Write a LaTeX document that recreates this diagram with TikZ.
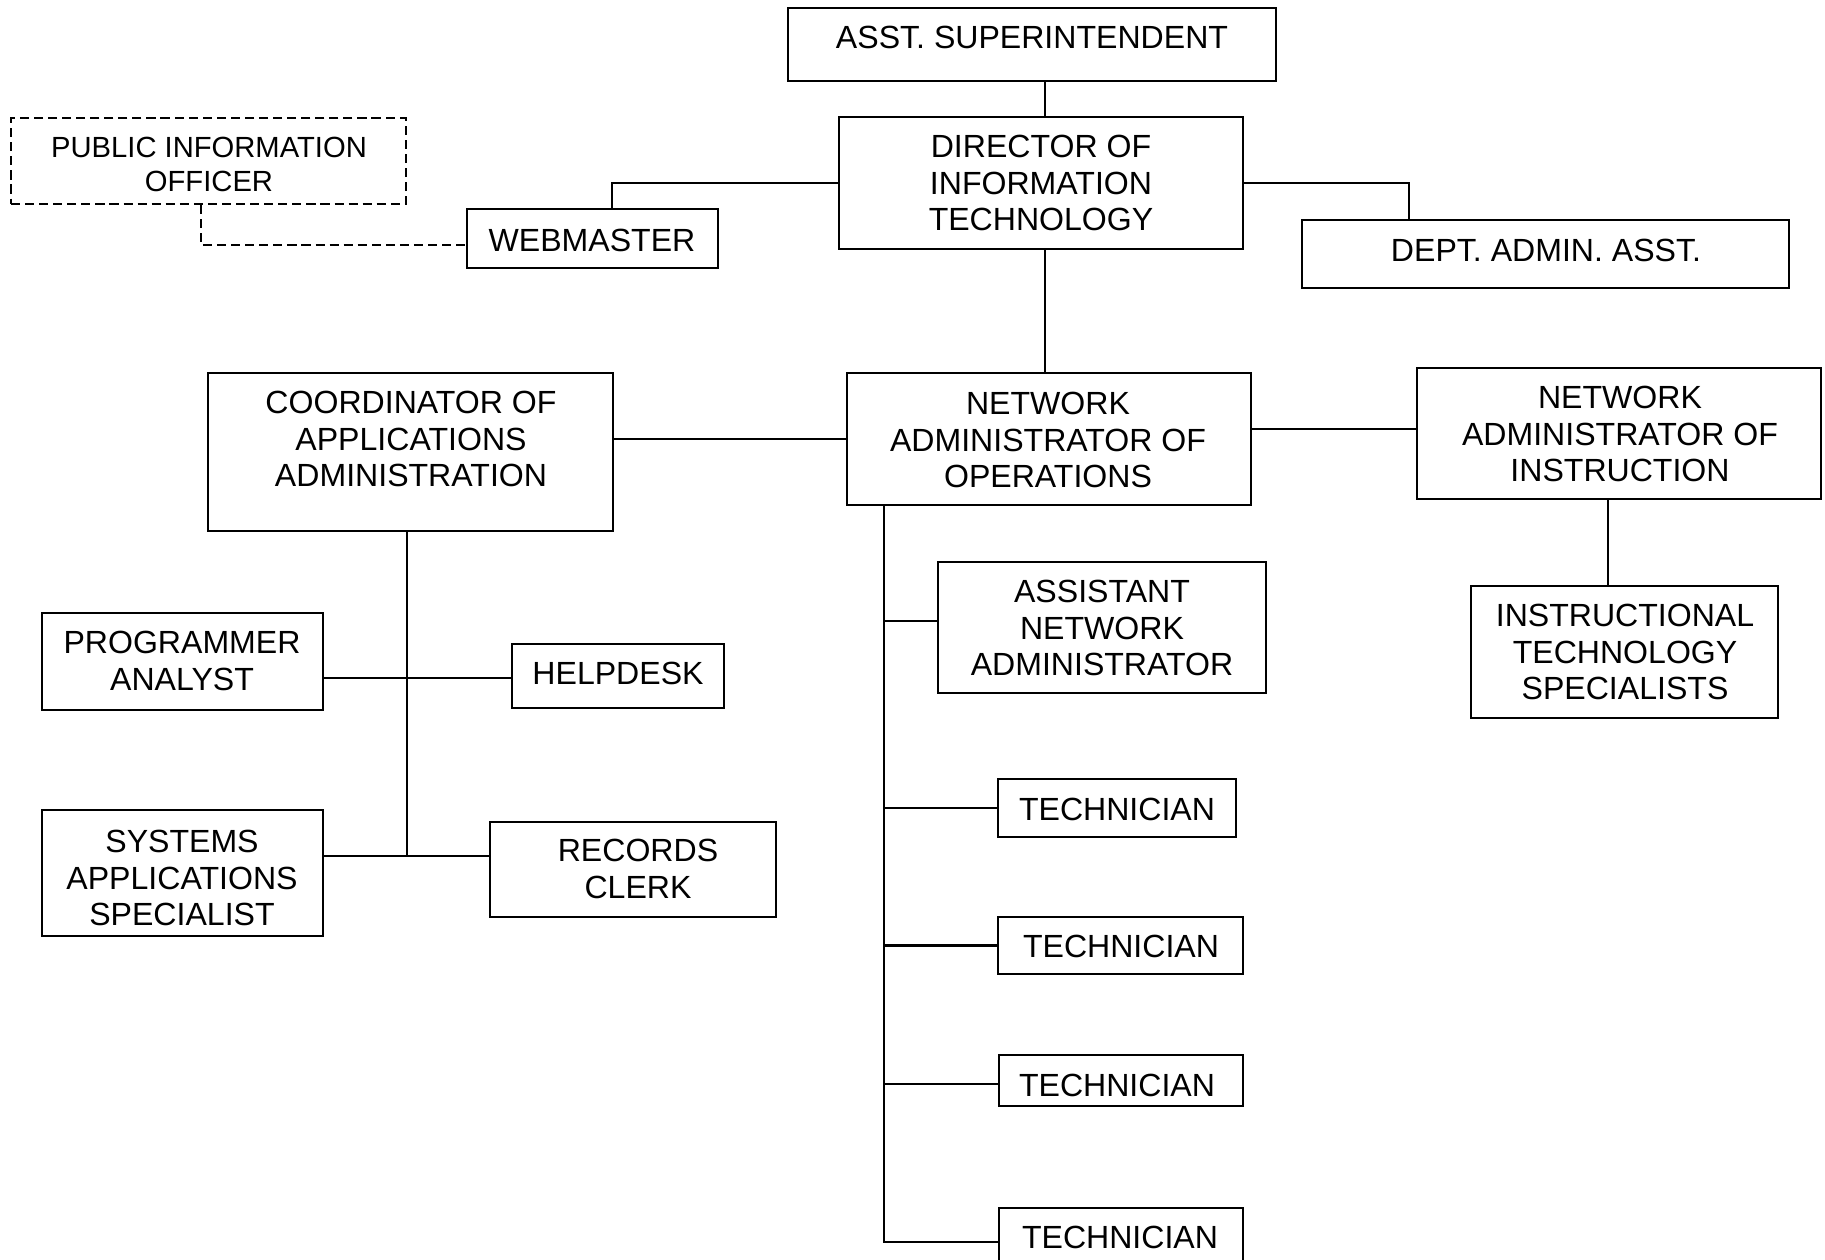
\documentclass[tikz,border=0pt]{standalone}
\usepackage{fontspec}
\setmainfont{Liberation Sans}
\usetikzlibrary{fit,calc}
\begin{document}
\begin{tikzpicture}[x=0.01cm,y=-0.01cm,
  box/.style={draw, line width=0.6pt, inner sep=0pt},
  dbox/.style={box, dash pattern=on 2.6pt off 1.4pt},
  txt/.style={inner sep=0pt, align=center, font=\fontsize{9.12}{10.45}\selectfont},
  stxt/.style={txt, font=\fontsize{8.3}{9.7}\selectfont},
  link/.style={line width=0.6pt},
  dlink/.style={link, dash pattern=on 2.6pt off 1.4pt}]
\clip (0,0) rectangle (1825,1259);
\fill[white] (0,0) rectangle (1825,1259);

% boxes
\node[box, fit={(788,8) (1276,81)}] (ast) {};
\node[box, fit={(839,117) (1243,249)}] (dir) {};
\node[box, fit={(467,209) (718,268)}] (web) {};
\node[box, fit={(1302,220) (1789,288)}] (dept) {};
\node[dbox, fit={(11,118) (406,204)}] (pub) {};
\node[box, fit={(208,373) (613,531)}] (coord) {};
\node[box, fit={(847,373) (1251,505)}] (ops) {};
\node[box, fit={(1417,368) (1821,499)}] (inst) {};
\node[box, fit={(1471,586) (1778,718)}] (its) {};
\node[box, fit={(42,613) (323,710)}] (prog) {};
\node[box, fit={(512,644) (724,708)}] (help) {};
\node[box, fit={(42,810) (323,936)}] (sys) {};
\node[box, fit={(490,822) (776,917)}] (rec) {};
\node[box, fit={(938,562) (1266,693)}] (asna) {};
\node[box, fit={(998,779) (1236,837)}] (t1) {};
\node[box, fit={(998,917) (1243,974)}] (t2) {};
\node[box, fit={(999,1055) (1243,1106)}] (t3) {};
\node[box, fit={(999,1208) (1243,1276)}] (t4) {};

% labels
\node[txt] (ast-t) at (1032,37) {ASST. SUPERINTENDENT};
\node[txt] (dir-t) at (1041,183) {DIRECTOR OF\\INFORMATION\\TECHNOLOGY};
\node[txt] (web-t) at (592,240) {WEBMASTER};
\node[txt] (dept-t) at (1546,250) {DEPT. ADMIN. ASST.};
\node[stxt] (pub-t) at (209,164) {PUBLIC INFORMATION\\OFFICER};
\node[txt] (coord-t) at (411,439) {COORDINATOR OF\\APPLICATIONS\\ADMINISTRATION};
\node[txt] (ops-t) at (1048,440) {NETWORK\\ADMINISTRATOR OF\\OPERATIONS};
\node[txt] (inst-t) at (1620,434) {NETWORK\\ADMINISTRATOR OF\\INSTRUCTION};
\node[txt] (its-t) at (1625,652) {INSTRUCTIONAL\\TECHNOLOGY\\SPECIALISTS};
\node[txt] (prog-t) at (182,661) {PROGRAMMER\\ANALYST};
\node[txt] (help-t) at (618,673) {HELPDESK};
\node[txt] (sys-t) at (182,878) {SYSTEMS\\APPLICATIONS\\SPECIALIST};
\node[txt] (rec-t) at (638,869) {RECORDS\\CLERK};
\node[txt] (asna-t) at (1102,628) {ASSISTANT\\NETWORK\\ADMINISTRATOR};
\node[txt] (t1-t) at (1117,809) {TECHNICIAN};
\node[txt] (t2-t) at (1121,946) {TECHNICIAN};
\node[txt] (t3-t) at (1117,1085) {TECHNICIAN};
\node[txt] (t4-t) at (1120,1237) {TECHNICIAN};

% top of the chart
\draw[link] ($(dir.north west)!0.51!(dir.north east)$) coordinate (dtop) -- (dtop |- ast.south);
\draw[link] ($(dir.south west)!0.51!(dir.south east)$) coordinate (dbot) -- (dbot |- ops.north);
\draw[link] (dir.west) -| ($(web.north west)!0.578!(web.north east)$);
\draw[link] (dir.east) -| ($(dept.north west)!0.221!(dept.north east)$);
\draw[dlink] ($(pub.south west)!0.481!(pub.south east)$) |- ($(web.north west)!0.61!(web.south west)$);

% middle row
\draw[link] (ops.west) -- (ops.west -| coord.east);
\draw[link] ($(ops.north east)!0.424!(ops.south east)$) coordinate (oi) -- (oi -| inst.west);
\draw[link] ($(inst.south west)!0.473!(inst.south east)$) coordinate (ib) -- (ib |- its.north);

% applications branch
\draw[link] ($(sys.north east)!0.365!(sys.south east)$) coordinate (se) -- (se -| rec.west);
\draw[link] ($(coord.south west)!0.491!(coord.south east)$) coordinate (cb) -- (cb |- se);
\draw[link] ($(prog.north east)!0.67!(prog.south east)$) coordinate (pe) -- (pe -| help.west);

% operations branch
\draw[link] ($(ops.south west)!0.094!(ops.south east)$) coordinate (ob) |- (t4.west);
\draw[link] ($(asna.north west)!0.45!(asna.south west)$) coordinate (aw) -- (aw -| ob);
\draw[link] (t1.west) -- (t1.west -| ob);
\draw[link] (t2.west) -- (t2.west -| ob);
\draw[link] ($(t3.north west)!0.57!(t3.south west)$) coordinate (t3w) -- (t3w -| ob);
\end{tikzpicture}
\end{document}
